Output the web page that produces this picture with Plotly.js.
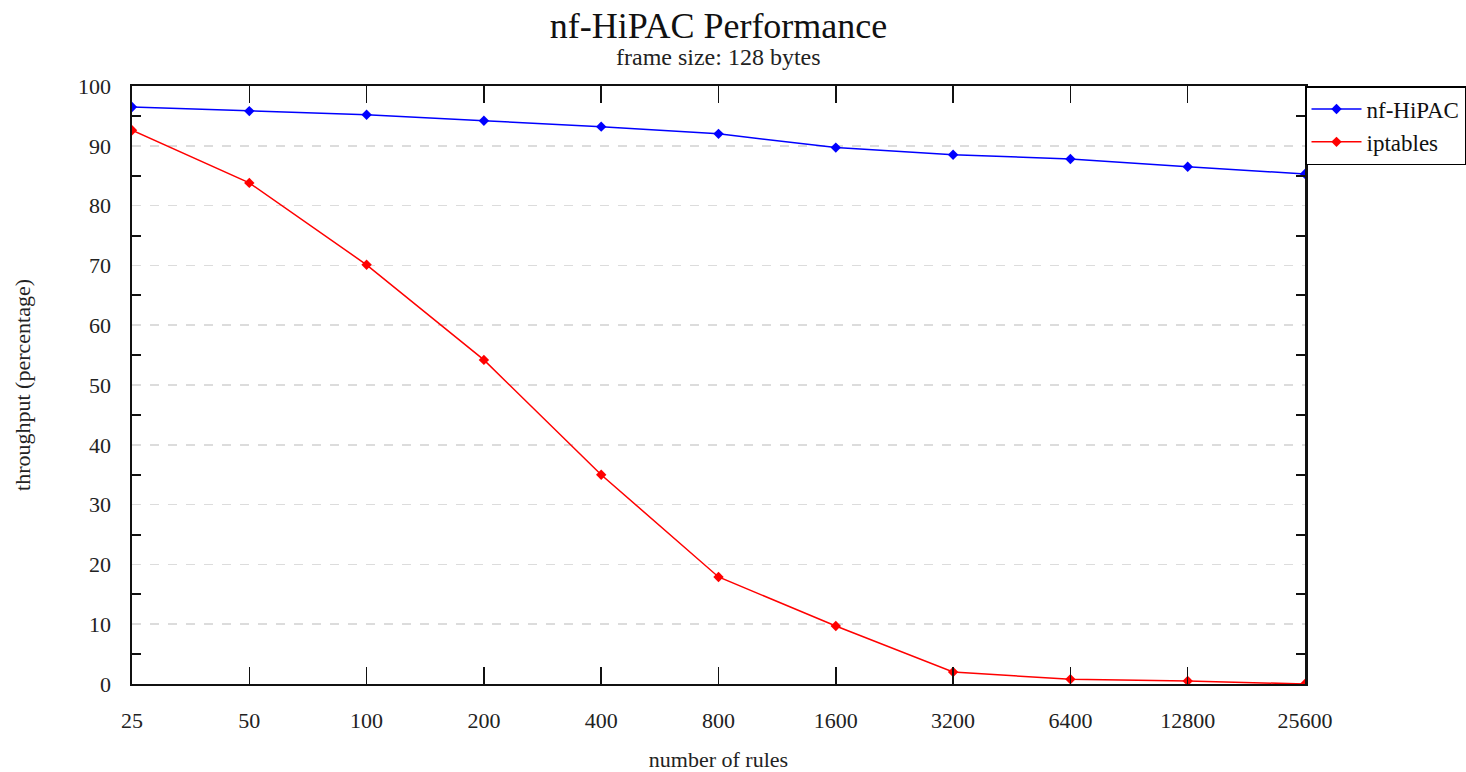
<!DOCTYPE html>
<html>
<head>
<meta charset="utf-8">
<script src="https://cdn.plot.ly/plotly-3.0.1.min.js"></script>
<style>html,body{margin:0;padding:0;background:#fff;}#chart{width:1466px;height:772px;}</style>
</head>
<body>
<div id="chart"></div>
<script>
var rules = ["25", "50", "100", "200", "400", "800", "1600", "3200", "6400", "12800", "25600"];
var nfHipac = [96.5, 95.8, 95.2, 94.2, 93.2, 92.0, 89.7, 88.5, 87.8, 86.5, 85.3];
var iptables = [92.6, 83.8, 70.1, 54.2, 35.0, 17.9, 9.7, 2.0, 0.8, 0.5, 0.0];

var FONT = "Liberation Serif, Times New Roman, serif";

var traces = [
  {x: rules, y: nfHipac, name: "nf-HiPAC", type: "scatter", mode: "lines+markers",
   line: {color: "#0000ff", width: 1.5}, marker: {symbol: "diamond", size: 8, color: "#0000ff"}},
  {x: rules, y: iptables, name: "iptables", type: "scatter", mode: "lines+markers",
   line: {color: "#ff0000", width: 1.5}, marker: {symbol: "diamond", size: 8, color: "#ff0000"}}
];

var layout = {
  width: 1466, height: 772,
  margin: {l: 132, r: 161, t: 86, b: 88, autoexpand: false},
  paper_bgcolor: "#fff", plot_bgcolor: "#fff",
  font: {family: FONT, size: 22, color: "#222"},
  title: {text: "nf-HiPAC Performance", font: {family: FONT, size: 36, color: "#111"},
          x: 0.5, xref: "paper", y: 1 - 25/772, yref: "container", yanchor: "middle"},
  annotations: [{text: "frame size: 128 bytes", xref: "paper", yref: "paper", x: 0.5, y: (684-57)/598,
                 showarrow: false, font: {family: FONT, size: 24, color: "#222"}, yanchor: "middle"}],
  showlegend: true,
  legend: {x: 1, xref: "paper", xanchor: "left", y: 1, yanchor: "top", bgcolor: "#fff",
           bordercolor: "#000", borderwidth: 1.5, font: {family: FONT, size: 23, color: "#111"},
           itemwidth: 50, tracegroupgap: 0},
  xaxis: {type: "category", range: [0, 10], showgrid: false, zeroline: false,
          showline: true, linecolor: "#111", linewidth: 2, mirror: "ticks",
          ticks: "inside", ticklen: 17, tickwidth: 1.5, tickcolor: "#111",
          ticklabelstandoff: 16, tickfont: {family: FONT, size: 22, color: "#222"},
          title: {text: "number of rules", font: {family: FONT, size: 22, color: "#222"}, standoff: 26}},
  yaxis: {range: [0, 100], dtick: 10, tick0: 0, showgrid: true, gridcolor: "#dcdcdc", gridwidth: 1.5, griddash: "dash",
          zeroline: false, showline: true, linecolor: "#111", linewidth: 2.5, mirror: "ticks",
          ticks: "", ticklabelstandoff: 14, tickfont: {family: FONT, size: 22, color: "#222"},
          minor: {dtick: 5, tick0: 0, ticks: "inside", ticklen: 9, tickwidth: 2, tickcolor: "#111", showgrid: false},
          title: {text: "throughput (percentage)", font: {family: FONT, size: 22, color: "#222"}, standoff: 42}}
};

Plotly.newPlot("chart", traces, layout, {displayModeBar: false, staticPlot: true});
</script>
</body>
</html>
